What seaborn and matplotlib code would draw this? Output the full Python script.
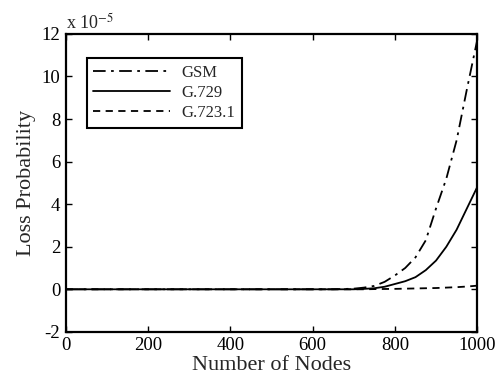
import numpy as np
import pandas as pd
import matplotlib
matplotlib.use("Agg")
import matplotlib.pyplot as plt
import seaborn as sns

# Data (loss probability in units of 1e-5)
nodes = [0, 100, 200, 300, 400, 500, 600, 650, 700, 725, 750, 775, 800, 825, 850,
         875, 900, 925, 950, 975, 1000]
gsm = [0, 0, 0, 0, 0, 0, 0, 0, 0.03, 0.08, 0.16, 0.35, 0.65, 1.0, 1.5,
       2.3, 3.8, 5.2, 7.0, 9.4, 11.7]
g729 = [0, 0, 0, 0, 0, 0, 0, 0, 0.0, 0.02, 0.05, 0.12, 0.25, 0.38, 0.57,
        0.9, 1.35, 2.0, 2.8, 3.8, 4.8]
g7231 = [0, 0, 0, 0, 0, 0, 0, 0, 0, 0, 0.01, 0.015, 0.02, 0.03, 0.04,
         0.05, 0.06, 0.08, 0.1, 0.13, 0.17]
series_names = ["GSM", "G.729", "G.723.1"]
xticks = [0, 200, 400, 600, 800, 1000]
yticks = [-2, 0, 2, 4, 6, 8, 10, 12]

df = pd.DataFrame({
    "Nodes": nodes * 3,
    "Loss": gsm + g729 + g7231,
    "Codec": [series_names[0]] * len(nodes) + [series_names[1]] * len(nodes) + [series_names[2]] * len(nodes),
})

sns.set_style("ticks")
plt.rcParams["font.family"] = ["Liberation Serif", "DejaVu Serif"]
plt.rcParams["mathtext.fontset"] = "stix"
plt.rcParams["axes.unicode_minus"] = False

fig = plt.figure(figsize=(4.95, 3.85), dpi=100)
ax = fig.add_axes([0.133, 0.138, 0.831, 0.774])

dash_map = {"GSM": (7, 3, 1.5, 3), "G.729": "", "G.723.1": (4, 3)}
sns.lineplot(data=df, x="Nodes", y="Loss", hue="Codec", style="Codec",
             palette=["black"] * 3, dashes=dash_map, linewidth=1.3, ax=ax,
             hue_order=series_names, style_order=series_names, legend=True)

ax.set_xlim(0, 1000)
ax.set_ylim(-2, 12)
ax.set_xticks(xticks)
ax.set_yticks(yticks)
ax.tick_params(direction="in", length=4, width=1, top=True, right=True,
               labelsize=13.5, pad=4, colors="black")
for s in ax.spines.values():
    s.set_linewidth(1.6)
    s.set_color("black")
    s.set_visible(True)

ax.set_xlabel("Number of Nodes", fontsize=16, labelpad=1)
ax.set_ylabel("Loss Probability", fontsize=16, labelpad=4)
ax.text(0.0, 1.005, r"x 10$^{-5}$", transform=ax.transAxes, fontsize=13,
        ha="left", va="bottom")

leg = ax.legend(loc="upper left", bbox_to_anchor=(0.051, 0.919), borderaxespad=0,
                fontsize=12, frameon=True, fancybox=False, edgecolor="black",
                handlelength=4.6, handletextpad=0.7, labelspacing=0.25, borderpad=0.4)
leg.get_frame().set_linewidth(1.5)
leg.get_frame().set_facecolor("white")
leg.get_frame().set_alpha(1)
leg.set_title(None)

fig.savefig("out.png", dpi=100)
